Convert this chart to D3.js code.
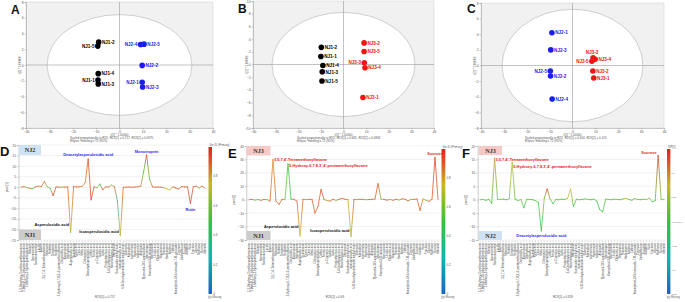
<!DOCTYPE html>
<html><head><meta charset="utf-8">
<script src="https://cdn.jsdelivr.net/npm/d3@7"></script>
<style>body{margin:0;background:#fff}svg{display:block;font-family:"Liberation Sans",Arial,sans-serif}</style>
</head><body><svg id="c" width="685" height="302"></svg>
<script>
// ---------- DATA ----------
// Score plots
const namesA = ["NJ1-2","NJ1-5","NJ1-4","NJ1-1","NJ1-3","NJ2-4","NJ2-5","NJ2-2","NJ2-1","NJ2-3"];
const t1A = [-8.9,-9.3,-9.1,-9.2,-9.1,9.0,10.5,9.7,9.7,9.9];
const t2A = [2.9,2.4,-1.1,-1.9,-2.4,2.6,2.65,-0.05,-2.2,-2.8];
const groupA = ["NJ1","NJ1","NJ1","NJ1","NJ1","NJ2","NJ2","NJ2","NJ2","NJ2"];
const sideA = ["R","L","R","L","R","L","R","R","L","R"];

const namesB = ["NJ1-2","NJ1-1","NJ1-4","NJ1-3","NJ1-5","NJ3-2","NJ3-5","NJ3-3","NJ3-4","NJ3-1"];
const t1B = [-9.8,-10.0,-9.1,-9.4,-9.5,9.1,9.1,9.2,9.5,8.6];
const t2B = [2.7,1.26,-0.16,-1.15,-2.6,3.4,2.05,0.27,-0.5,-5.2];
const groupB = ["NJ1","NJ1","NJ1","NJ1","NJ1","NJ3","NJ3","NJ3","NJ3","NJ3"];
const sideB = ["R","R","R","R","R","R","R","L","R","R"];

const namesC = ["NJ2-1","NJ2-3","NJ2-5","NJ2-2","NJ2-4","NJ3-3","NJ3-4","NJ3-5","NJ3-2","NJ3-1"];
const t1C = [-9.0,-9.5,-9.7,-9.6,-8.9,9.0,9.9,8.5,8.9,9.3];
const t2C = [4.2,2.0,-0.7,-1.35,-4.3,1.0,0.8,0.55,-0.7,-1.6];
const groupC = ["NJ2","NJ2","NJ2","NJ2","NJ2","NJ3","NJ3","NJ3","NJ3","NJ3"];
const sideC = ["R","R","L","R","R","T","R","L","R","R"];

const ellipseA = [31, 6.4], ellipseB = [31.6, 8.2], ellipseC = [30.8, 7.2];
const xTicksTop = [-40,-30,-20,-10,0,10,20,30,40];

// Loading line plots
const varNames = ["1,3-Dihydroxy-2-methoxyanthraquinone","2-Methyl-1,3,6-trihydroxyanthraquinone","1-Methoxy-2-hydroxyanthraquinone","Rubiadin","Damnacanthal","Nordamnacanthal","Lucidin","Alizarin","3,5,7,4'-Tetramethoxyflavone","Sinensetin","Nobiletin","Tangeretin","Scopoletin","5-Hydroxy-6,7,8,3',4'-pentamethoxyflavone","Geniposidic acid","Asperuloside","Daphylloside","Asperulosidic acid","Scandoside","Quinic acid","Citric acid","Malic acid","Chlorogenic acid","Deacetylasperulosidic acid","Caffeic acid","Ferulic acid","p-Coumaric acid","Vanillic acid","Gallic acid","Protocatechuic acid","3,4-Dicaffeoylquinic acid","Neochlorogenic acid","Geniposide","Scandoside methyl ester","Isoasperulosidic acid","6-O-Feruloylscandoside methyl ester","Quercetin","Kaempferol","Isorhamnetin","Hyperoside","Isoquercitrin","Astragalin","Quercetin-3-O-sambubioside","Monotropein","Kaempferol-3-O-rutinoside","Narcissoside","Ursolic acid","Oleanolic acid","Stigmasterol","Sitosterol","Hederagenin","Apigenin","Luteolin","Kaempferol-3-O-rutinoside-7-O-glucoside","Coumarin","Umbelliferone","Esculetin","Isovitexin","Rutin","Fructose","Glucose","Raffinose","Sucrose","Mannitol"];

const pcorrD = [0,0.3,-0.2,-0.5,-0.7,0.2,0.5,0.3,2.7,0.2,-0.5,-4,0.2,0,0.1,0,0.2,-21.5,0.3,0.1,0.2,0.5,2.2,13.4,-6,0.2,-0.3,1.5,-1.2,0.2,0.1,1.0,0.2,-6.5,-23,0,0,0.1,0,0.1,0.2,0.5,7.4,15.3,4,0.2,0,0.1,0,-0.3,-0.8,-1.2,0.2,-0.4,-0.8,0.3,0.1,0.2,-7.6,0.3,0.5,-0.4,0.5,-0.5];
const colD = [.9,.9,.6,.9,.5,.9,.85,.9,.9,.6,.5,.95,.9,.9,.6,.9,.9,.72,.9,.9,.9,.85,.85,.93,.95,.9,.6,.5,.95,.9,.9,.6,.9,.35,.72,.9,.9,.9,.9,.9,.9,.85,.5,.95,.55,.9,.9,.9,.9,.8,.75,.7,.9,.9,.9,.9,.9,.9,.95,.9,.9,.6,.9,.9];

const pcorrE = [0,0.2,-0.3,0.1,-0.4,0.2,0.1,-1,30,-1,-3.5,0.2,0.3,26.8,0.5,0.2,-1,-27,0.2,0.1,0.3,0.2,-10,-5,7.6,0.2,-0.6,-1,0.3,-0.5,0.2,1,0.3,0.1,-27.5,0.2,0.1,0.3,0.2,0,0.1,0.3,0.5,12,0.5,0.2,-0.3,0.2,-0.4,0.3,-0.2,0.6,0.4,-0.8,0.2,0.3,0.5,-8,0.6,-0.4,-1.2,0.3,31.5,0.2];
const colE = [.9,.9,.6,.4,.9,.9,.6,.9,.82,.9,.9,.9,.6,.5,.5,.9,.9,.75,.9,.6,.9,.9,.9,.9,.92,.9,.6,.9,.9,.6,.9,.9,.9,.8,.7,.9,.6,.9,.9,.6,.9,.9,.9,.92,.6,.9,.9,.6,.9,.9,.6,.9,.9,.9,.6,.9,.9,.9,.8,.6,.9,.9,.95,.9];

const pcorrF = [0,0.1,-0.2,0.1,-1.4,15.5,0.2,0.1,0.2,0,0.3,14,0.2,-0.3,0.1,-3,0.2,0.1,0,-0.3,-1,-11.7,0.5,4,0.2,-1.5,0.1,0,0.2,0.1,0.5,4,-2.5,0.2,0,0.1,0.3,0.1,0,0.2,-0.5,-3.7,-4.5,0.2,0.1,0,0.2,0.1,0,0.3,0.5,0.1,-0.2,0.4,0.1,0,0.2,0.1,0.6,-0.8,-0.3,16.5,0.2,0];
const colF = [.55,.6,.5,.55,.5,.8,.55,.6,.5,.55,.6,.72,.55,.5,.6,.45,.55,.6,.5,.55,.45,.45,.6,.95,.6,.45,.55,.6,.5,.55,.7,.75,.5,.55,.6,.5,.55,.6,.5,.55,.5,.45,.5,.55,.6,.5,.55,.6,.5,.55,.7,.6,.5,.55,.6,.5,.55,.6,.7,.45,.55,.95,.6,.55];

const annotD = [{i:17,text:"Asperulosidic acid",color:"#111",pos:"Lb",dy:-6.5},{i:23,text:"Deacetylasperulosidic acid",color:"#2a2af0",pos:"C",dy:-3},{i:34,text:"Isoasperulosidic acid",color:"#111",pos:"Lb",dy:-3},{i:43,text:"Monotropein",color:"#2a2af0",pos:"C",dy:-2},{i:58,text:"Rutin",color:"#2a2af0",pos:"C",dy:7.5}];
const annotE = [{i:8,text:"3,5,7,4'-Tetramethoxyflavone",color:"#e01818",pos:"R",dy:1.5},{i:13,text:"5-Hydroxy-6,7,8,3',4'-pentamethoxyflavone",color:"#e01818",pos:"R",dy:3},{i:17,text:"Asperulosidic acid",color:"#111",pos:"Lb",dy:-8},{i:34,text:"Isoasperulosidic acid",color:"#111",pos:"Lb",dy:-5},{i:62,text:"Sucrose",color:"#e01818",pos:"C",dy:-2}];
const annotF = [{i:5,text:"3,5,7,4'-Tetramethoxyflavone",color:"#e01818",pos:"R",dy:2.5},{i:11,text:"5-Hydroxy-6,7,8,3',4'-pentamethoxyflavone",color:"#e01818",pos:"R",dy:5.5},{i:21,text:"Deacetylasperulosidic acid",color:"#2a2af0",pos:"C",dy:5.5},{i:61,text:"Sucrose",color:"#e01818",pos:"Lb",dy:-1}];

// ---------- DRAWING ----------
const svg = d3.select("#c");
const defs = svg.append("defs");
const cmap = d3.scaleLinear().domain([0,.25,.5,.75,1]).range(["#1565c8","#17b3b0","#35c435","#cdb52a","#e3201b"]);
const groupColor = {NJ1:"#000000", NJ2:"#1c1cf0", NJ3:"#f01414"};

function styleAxis(a){
  a.selectAll("text").attr("font-size",3.3).attr("fill","#555");
  a.select(".domain").attr("stroke","#999").attr("stroke-width",0.5);
  a.selectAll(".tick line").attr("stroke","#999").attr("stroke-width",0.5);
}

function scatter(p){
  const g = svg.append("g");
  const x = d3.scaleLinear().domain([-40,40]).range([p.x0,p.x1]);
  const y = d3.scaleLinear().domain([-p.yMax,p.yMax]).range([p.y1,p.y0]);
  g.append("rect").attr("x",p.x0).attr("y",p.y0).attr("width",p.x1-p.x0).attr("height",p.y1-p.y0)
    .attr("fill","#f1f1f1").attr("stroke","#cfcfcf").attr("stroke-width",0.5);
  g.append("ellipse").attr("cx",x(0)).attr("cy",y(0)).attr("rx",x(p.ell[0])-x(0)).attr("ry",y(0)-y(p.ell[1]))
    .attr("fill","#fff").attr("stroke","#b0b0b0").attr("stroke-width",0.6);
  g.append("line").attr("x1",x(0)).attr("x2",x(0)).attr("y1",p.y0).attr("y2",p.y1).attr("stroke","#9a9a9a").attr("stroke-width",0.6);
  g.append("line").attr("x1",p.x0).attr("x2",p.x1).attr("y1",y(0)).attr("y2",y(0)).attr("stroke","#9a9a9a").attr("stroke-width",0.6);
  const ax = g.append("g").attr("transform",`translate(0,${p.y1})`).call(d3.axisBottom(x).tickValues(xTicksTop).tickSize(1.5).tickPadding(1));
  const ay = g.append("g").attr("transform",`translate(${p.x0},0)`).call(d3.axisLeft(y).tickValues(d3.range(-p.yMax,p.yMax+0.01,2)).tickSize(1.5).tickPadding(1));
  styleAxis(ax); styleAxis(ay);
  const cx = (p.x0+p.x1)/2;
  g.append("text").attr("x",cx).attr("y",p.y1+7.5).attr("text-anchor","middle").attr("font-size",3).attr("fill","#555").text(p.xTitle);
  g.append("text").attr("x",p.x0+44).attr("y",p.y1+11).attr("font-size",3).attr("fill","#555").text(p.foot1);
  g.append("text").attr("x",p.x0+44).attr("y",p.y1+14.3).attr("font-size",3).attr("fill","#555").text("Ellipse: Hotelling's T2 (95%)");
  g.append("text").attr("transform",`translate(${p.x0-5.5},${y(0)}) rotate(-90)`).attr("text-anchor","middle").attr("font-size",3).attr("fill","#555").text(p.yTitle);
  const pts = p.names.map((n,i)=>({n, x:p.t1[i], y:p.t2[i], g:p.group[i], s:p.side[i]}));
  g.selectAll("circle.pt").data(pts).join("circle").attr("class","pt")
    .attr("cx",d=>x(d.x)).attr("cy",d=>y(d.y)).attr("r",2.8).attr("fill",d=>groupColor[d.g]);
  g.selectAll("text.lb").data(pts).join("text").attr("class","lb")
    .attr("x",d=>d.s==="R"?x(d.x)+3.3:d.s==="L"?x(d.x)-3.3:x(d.x)-1)
    .attr("y",d=>d.s==="T"?y(d.y)-4:y(d.y)+1.7)
    .attr("text-anchor",d=>d.s==="R"?"start":d.s==="L"?"end":"middle")
    .attr("font-size",4.6).attr("font-weight","bold").attr("fill",d=>groupColor[d.g]).text(d=>d.n);
  svg.append("text").attr("x",p.lx).attr("y",p.ly).attr("font-size",12).attr("font-weight","bold").attr("fill","#111").text(p.letter);
}

scatter({x0:26,x1:213,y0:2,y1:128,yMax:8,ell:ellipseA,names:namesA,t1:t1A,t2:t2A,group:groupA,side:sideA,
  xTitle:"t[1] * 1.00000",yTitle:"t[2] * 1.00000",foot1:"Scaled proportionally to R2X, R2X[1] = 0.717, R2X[2] = 0.0975",letter:"A",lx:11,ly:14});
scatter({x0:253,x1:434,y0:1,y1:128,yMax:10,ell:ellipseB,names:namesB,t1:t1B,t2:t2B,group:groupB,side:sideB,
  xTitle:"t[1] * 1.00000",yTitle:"t[2] * 1.00000",foot1:"Scaled proportionally to R2X, R2X[1] = 0.681, R2X[2] = 0.0863",letter:"B",lx:238,ly:13});
scatter({x0:481,x1:664,y0:3,y1:128,yMax:8,ell:ellipseC,names:namesC,t1:t1C,t2:t2C,group:groupC,side:sideC,
  xTitle:"t[1] * 1.00000",yTitle:"t[2] * 1.00000",foot1:"Scaled proportionally to R2X, R2X[1] = 0.654, R2X[2] = 0.105",letter:"C",lx:467,ly:13});

function loadings(p){
  const g = svg.append("g");
  const x = d3.scalePoint().domain(d3.range(varNames.length)).range([p.px0,p.px1]);
  const y = d3.scaleLinear().domain(p.yDom).range([p.y1,p.y0]);
  const ticks = d3.range(p.yDom[0],p.yDom[1]+0.001,p.step);
  g.selectAll("line.grid").data(ticks).join("line").attr("class","grid")
    .attr("x1",p.ax).attr("x2",p.px1+2).attr("y1",d=>y(d)).attr("y2",d=>y(d)).attr("stroke","#e4e4e4").attr("stroke-width",0.5);
  const ay = g.append("g").attr("transform",`translate(${p.ax},0)`).call(d3.axisLeft(y).tickValues(ticks).tickSize(1.5).tickPadding(1));
  styleAxis(ay);
  g.append("text").attr("transform",`translate(${p.ax-11},${y(0)}) rotate(-90)`).attr("text-anchor","middle").attr("font-size",3).attr("fill","#555").text("pcorr[1]");
  // variable ticks and names
  g.selectAll("line.vt").data(varNames).join("line").attr("class","vt")
    .attr("x1",(d,i)=>x(i)).attr("x2",(d,i)=>x(i)).attr("y1",p.y1+0.5).attr("y2",p.y1+2).attr("stroke","#999").attr("stroke-width",0.4);
  g.selectAll("text.vn").data(varNames).join("text").attr("class","vn")
    .attr("transform",(d,i)=>`translate(${x(i)+1},${p.y1+3}) rotate(-90)`)
    .attr("text-anchor","end").attr("font-size",2.8).attr("fill","#444").text(d=>d);
  // group boxes
  p.boxes.forEach(b=>{
    g.append("rect").attr("x",b.x).attr("y",b.y).attr("width",b.w).attr("height",b.h).attr("fill",b.fill);
    g.append("text").attr("x",b.x+b.w/2).attr("y",b.y+b.h/2+2.3).attr("text-anchor","middle").attr("font-size",6.2)
      .attr("font-family","Liberation Serif, serif").attr("font-weight","bold").attr("fill","#333").text(b.label);
  });
  // line with per-segment gradients
  const v = p.vals, c = p.cols;
  for(let i=0;i<v.length-1;i++){
    const id = `${p.id}s${i}`;
    const x1=x(i),y1=y(v[i]),x2=x(i+1),y2=y(v[i+1]);
    const gr = defs.append("linearGradient").attr("id",id).attr("gradientUnits","userSpaceOnUse")
      .attr("x1",x1).attr("y1",y1).attr("x2",x2).attr("y2",y2);
    gr.append("stop").attr("offset",0).attr("stop-color",cmap(c[i] ?? 0.9));
    gr.append("stop").attr("offset",1).attr("stop-color",cmap(c[i+1] ?? 0.9));
    g.append("line").attr("x1",x1).attr("y1",y1).attr("x2",x2).attr("y2",y2)
      .attr("stroke",`url(#${id})`).attr("stroke-width",0.75).attr("stroke-linecap","round");
  }
  // annotations
  p.annot.forEach(a=>{
    const px = x(a.i), py = y(v[a.i]);
    g.append("text").attr("x",a.pos==="R"?px+1:a.pos==="Lb"?px-1.5:px).attr("y",py+a.dy)
      .attr("text-anchor",a.pos==="R"?"start":a.pos==="Lb"?"end":"middle")
      .attr("font-size",3.9).attr("font-weight","bold").attr("fill",a.color).text(a.text);
  });
  // colour bar
  const gid = p.id+"cb";
  const gr = defs.append("linearGradient").attr("id",gid).attr("x1",0).attr("y1",1).attr("x2",0).attr("y2",0);
  [0,.25,.5,.75,1].forEach(t=>gr.append("stop").attr("offset",t).attr("stop-color",cmap(t)));
  g.append("rect").attr("x",p.cbx).attr("y",p.cby0).attr("width",p.cbw).attr("height",p.cby1-p.cby0).attr("fill",`url(#${gid})`);
  const s = d3.scaleLinear().domain(p.cbDom).range([p.cby1,p.cby0]);
  p.cbTicks.forEach((t,k)=>{
    g.append("text").attr("x",p.cbx+p.cbw+1.2).attr("y",s(t)+1).attr("font-size",p.cbFont).attr("fill","#555").text(p.cbLabels[k]);
  });
  g.append("text").attr("x",p.cbx+1).attr("y",p.cby0-1.5).attr("font-size",2.8).attr("fill","#555").text(p.cbTitle);
  g.append("rect").attr("x",p.cbx).attr("y",p.cby1+2).attr("width",3).attr("height",2.2).attr("fill","#d0d0d0").attr("stroke","#999").attr("stroke-width",0.3);
  g.append("text").attr("x",p.cbx+4).attr("y",p.cby1+4.2).attr("font-size",2.6).attr("fill","#555").text("Missing");
  g.append("text").attr("x",p.foot[0]).attr("y",297.5).attr("text-anchor","middle").attr("font-size",3).attr("fill","#555").text(p.foot[1]);
  svg.append("text").attr("x",p.lx).attr("y",p.ly).attr("font-size",13).attr("font-weight","bold").attr("fill","#111").text(p.letter);
}

loadings({id:"D",px0:21,px1:205,ax:18.5,y0:145,y1:240,yDom:[-25,20],step:5,vals:pcorrD,cols:colD,annot:annotD,
  boxes:[{label:"NJ2",fill:"#cfe2f3",x:19,y:145,w:22,h:10},{label:"NJ1",fill:"#cccccc",x:19,y:229.5,w:22,h:10.5}],
  cbx:208.5,cbw:3.5,cby0:147,cby1:294,cbDom:[0,1],cbTicks:[0,.2,.4,.6,.8],cbLabels:["0","0.2","0.4","0.6","0.8"],cbFont:3,cbTitle:"Var ID (Primary)",
  foot:[105,"R2X[1] = 0.757"],letter:"D",lx:0,ly:156});
loadings({id:"E",px0:249,px1:438,ax:246.3,y0:146,y1:240,yDom:[-30,40],step:10,vals:pcorrE,cols:colE,annot:annotE,
  boxes:[{label:"NJ3",fill:"#f6c9c9",x:246.5,y:146,w:24,h:9.5},{label:"NJ1",fill:"#cccccc",x:246.5,y:231,w:24,h:9}],
  cbx:441.5,cbw:3.8,cby0:149,cby1:294,cbDom:[0,1],cbTicks:[0,.2,.4,.6,.8],cbLabels:["0","0.2","0.4","0.6","0.8"],cbFont:3,cbTitle:"Var ID (Primary)",
  foot:[335,"R2X[1] = 0.69"],letter:"E",lx:228,ly:158});
loadings({id:"F",px0:480,px1:664,ax:477.7,y0:146,y1:240,yDom:[-15,20],step:5,vals:pcorrF,cols:colF,annot:annotF,
  boxes:[{label:"NJ3",fill:"#f6c9c9",x:479,y:146,w:23,h:9},{label:"NJ2",fill:"#cfe2f3",x:479,y:231,w:23,h:9}],
  cbx:667,cbw:3.4,cby0:149,cby1:294,cbDom:[-0.15,0.15],cbTicks:[-0.15,-0.1,-0.05,0,0.05,0.1],cbLabels:["-0.15","-0.1","-0.05","-1.0476e-8","0.05","0.1"],cbFont:2.2,cbTitle:"VIP[1]",
  foot:[563,"R2X[1] = 0.829"],letter:"F",lx:462,ly:158});
</script>
</body></html>
